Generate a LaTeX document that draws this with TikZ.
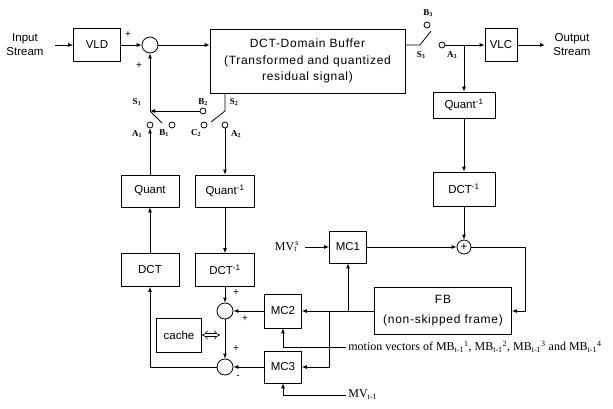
\documentclass[tikz,border=0pt]{standalone}
\usepackage{fontspec}
\setmainfont{Liberation Sans}
\newfontfamily\serifface{Liberation Serif}
\newfontfamily\widesans[LetterSpace=6]{Liberation Sans}
\usetikzlibrary{positioning,arrows.meta}
\tikzset{every picture/.style={line width=0.8pt}}

\begin{document}
\begin{tikzpicture}[x=1pt, y=-1pt, >={Latex[length=5pt,width=4pt]},
        every node/.style={font=\fontsize{11.5}{14}\selectfont, inner sep=2pt},
        block/.style={draw, inner sep=0pt, align=center},
        adder/.style={draw, circle, minimum size=16pt, inner sep=0pt},
        contact/.style={draw, circle, minimum size=6pt, inner sep=0pt},
        swlabel/.style={font=\serifface\bfseries\fontsize{9}{10}\selectfont, inner sep=0pt},
        sign/.style={font=\fontsize{10}{10}\selectfont, inner sep=0pt},
        serifnote/.style={font=\serifface\fontsize{12}{14}\selectfont, anchor=west}]
        \useasboundingbox (0,0) rectangle (613,409);
        % top row
        \node[align=center] (instream) at (25,45) {Input\\Stream};
        \node[block, minimum width=47pt, minimum height=33pt] (vld) at (97,45) {VLD};
        \node[adder] (sum1) at (150,45) {};
        \node[block, minimum width=195pt, minimum height=64pt, font=\widesans\fontsize{12}{16.5}\selectfont] (buffer) at (307.5,61)
            {DCT-Domain Buffer\\(Transformed and quantized\\residual signal)};
        \node[block, minimum width=32pt, minimum height=33pt] (vlc) at (501,45) {VLC};
        \node[align=center] (outstream) at (572,45) {Output\\Stream};
        % right branch
        \node[block, minimum width=62pt, minimum height=26pt] (quantir) at (464,105) {Quant\textsuperscript{-1}};
        \node[block, minimum width=62pt, minimum height=34pt] (dctir) at (464,189) {DCT\textsuperscript{-1}};
        \node[adder, minimum size=14pt] (sumr) at (464,247) {+};
        \node[block, minimum width=37pt, minimum height=32pt] (mc1) at (348,247) {MC1};
        \node[serifnote, anchor=center] (mvs) at (287,247) {MV\textsubscript{t}\kern-1.5pt\textsuperscript{s}};
        \node[block, minimum width=137pt, minimum height=47pt, font=\widesans\fontsize{12}{20}\selectfont] (fb) at (443,311)
            {FB\\(non-skipped frame)};
        % left branch
        \node[block, minimum width=58pt, minimum height=32pt] (quantl) at (150,191) {Quant};
        \node[block, minimum width=58pt, minimum height=33pt] (dctl) at (150,270) {DCT};
        \node[block, minimum width=59pt, minimum height=32pt] (quantil) at (225,191) {Quant\textsuperscript{-1}};
        \node[block, minimum width=59pt, minimum height=33pt] (dctil) at (225,270) {DCT\textsuperscript{-1}};
        \node[adder] (suml1) at (225,311) {};
        \node[adder] (suml2) at (225,367) {};
        \node[block, minimum width=45pt, minimum height=34pt] (cache) at (179,335) {cache};
        \node[block, minimum width=37pt, minimum height=34pt] (mc2) at (283,311) {MC2};
        \node[block, minimum width=37pt, minimum height=32pt] (mc3) at (283,367) {MC3};
        \node[serifnote] (mvtext) at (346,347)
            {motion vectors of MB\textsubscript{t-1}\textsuperscript{1}, MB\textsubscript{t-1}\textsuperscript{2}, MB\textsubscript{t-1}\textsuperscript{3} and MB\textsubscript{t-1}\textsuperscript{4}};
        \node[serifnote] (mvprev) at (346,395) {MV\textsubscript{t-1}};
        % switches
        \coordinate (j1) at (150,111);
        \coordinate (s1end) at (162,123);
        \node[contact] (a1) at (150,125) {};
        \node[contact] (b1) at (172,125) {};
        \node[contact] (b2) at (203,111) {};
        \coordinate (j2) at (225,111);
        \coordinate (s2end) at (211,122);
        \node[contact] (c2) at (204,125) {};
        \node[contact] (a2) at (225,125) {};
        \coordinate (j3) at (420,45);
        \coordinate (s3end) at (431,31);
        \node[contact] (b3) at (427,25) {};
        \node[contact] (a3) at (442,45) {};
        \node[swlabel] (ls1) at (137,102) {S\textsubscript{1}};
        \node[swlabel] (la1) at (137,134) {A\textsubscript{1}};
        \node[swlabel] (lb1) at (164,133) {B\textsubscript{1}};
        \node[swlabel] (lb2) at (203,102) {B\textsubscript{2}};
        \node[swlabel] (ls2) at (234,102) {S\textsubscript{2}};
        \node[swlabel] (lc2) at (196,133) {C\textsubscript{2}};
        \node[swlabel] (la2) at (236,134) {A\textsubscript{2}};
        \node[swlabel] (lb3) at (428,13) {B\textsubscript{3}};
        \node[swlabel] (ls3) at (421,55) {S\textsubscript{3}};
        \node[swlabel] (la3) at (452,55) {A\textsubscript{3}};
        % signs
        \node[sign] (p1) at (128,35) {+};
        \node[sign] (p2) at (139,66) {+};
        \node[sign] (p3) at (236,293) {+};
        \node[sign] (p4) at (245,319) {+};
        \node[sign] (p5) at (236,349) {+};
        \node[sign] (m1) at (238,377) {-};
        % free ends
        \coordinate (instart) at (55,45);
        \coordinate (outend) at (545,45);
        \coordinate (tap3) at (464,45);
        \coordinate (mvsstart) at (305,247);
        \coordinate (fbturn) at (525,247);
        \coordinate (tap1) at (348,311);
        \coordinate (tap2) at (329,311);
        \coordinate (cacheend) at (220,335);
        % connectors
        \draw[->] (instart) -- (vld);
        \draw[->] (vld) -- (sum1);
        \draw[->] (sum1.east) -- (sum1.east -| buffer.west);
        \draw (buffer.east |- j3) -- (j3) -- (s3end);
        \draw[->] (a3) -- (vlc);
        \draw[->] (vlc) -- (outend);
        \draw[->] (tap3) -- (quantir);
        \draw[->] (quantir) -- (dctir);
        \draw[->] (dctir) -- (sumr);
        \draw[->] (mvsstart) -- (mc1);
        \draw[->] (mc1) -- (sumr);
        \draw[->] (sumr) -- (fbturn) |- (fb);
        \draw[->] (fb) -- (mc2);
        \draw[->] (tap1) -- (mc1);
        \draw[->] (tap2) |- (mc3);
        \draw[->] (mc2) -- (suml1);
        \draw[->] (mc3) -- (suml2);
        \draw[->] (dctil) -- (suml1);
        \draw[->] (suml1) -- (suml2);
        \draw[->] (suml2) -| (dctl);
        \draw[->] (dctl) -- (quantl);
        \draw[->] (quantl) -- (a1);
        \draw[->] (a2) -- (quantil);
        \draw[->] (quantil) -- (dctil);
        \draw[->] (b2) -- (j1);
        \draw[->] (j1) -- (sum1);
        \draw (j1) -- (s1end);
        \draw (j2 |- buffer.south) -- (j2) -- (s2end);
        \draw[->] (mvtext.west) -| (mc2);
        \draw[->] (mvprev.west) -| (mc3);
        \draw[double, double distance=2.5pt, line width=0.6pt, {Implies}-{Implies}] (cache) -- (cacheend);
    \end{tikzpicture}
\end{document}
